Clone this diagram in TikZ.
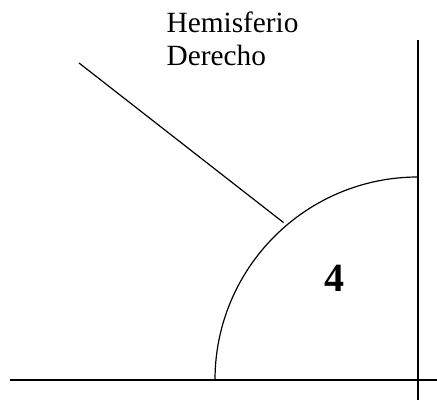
\documentclass[tikz,border=0pt]{standalone}
\usepackage{fontspec}
\setmainfont{Liberation Serif}
\usetikzlibrary{positioning, calc}

\begin{document}
\begin{tikzpicture}[
    x=0.75pt, y=0.75pt,
    line width=0.9pt,
    tag/.style={align=left, inner sep=0pt, anchor=base west, font=\fontsize{22}{24.75}\selectfont},
    quad/.style={inner sep=0pt, font=\fontsize{30}{30}\selectfont\bfseries}
]
\useasboundingbox (0,0) rectangle (437,400);
% axes
\coordinate (o) at (418,20);
\coordinate (xa) at (10,20);
\coordinate (xb) at (437,20);
\coordinate (ya) at (418,360);
\coordinate (yb) at (418,0);
\draw (xa) -- (xb);
\draw (ya) -- (yb);
% quarter circle
\draw (215,20) arc[start angle=180, end angle=90, radius=203];
\node[quad] (n4) at (334.5,122) {4};
% label and pointer
\node[tag] (hemi) at (166,334) {Hemisferio\\Derecho};
\coordinate (pa) at (79,337);
\coordinate (pb) at ($(o)+(130.5:207)$);
\draw (pa) -- (pb);
\end{tikzpicture}
\end{document}
